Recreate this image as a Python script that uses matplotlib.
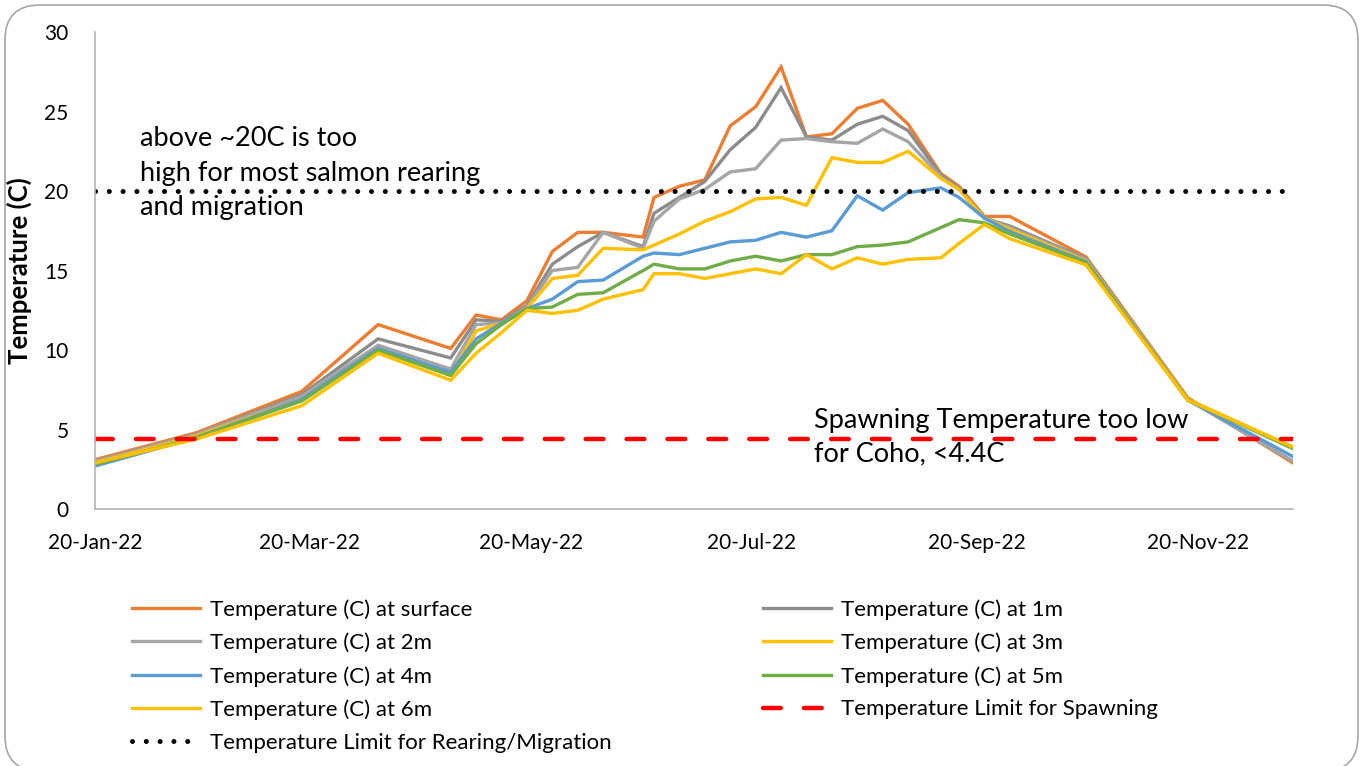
import matplotlib
matplotlib.use('Agg')
import matplotlib.pyplot as plt
import matplotlib.dates as mdates
from matplotlib.patches import FancyBboxPatch
import pandas as pd

plt.rcParams['font.family'] = ['Lato', 'DejaVu Sans']

# sample dates (2022)
dates = pd.to_datetime([
    '2022-01-20', '2022-02-17', '2022-03-18', '2022-04-08', '2022-04-28',
    '2022-05-05', '2022-05-12', '2022-05-19', '2022-05-26', '2022-06-02',
    '2022-06-09', '2022-06-20', '2022-06-23', '2022-06-30', '2022-07-07',
    '2022-07-14', '2022-07-21', '2022-07-28', '2022-08-04', '2022-08-11',
    '2022-08-18', '2022-08-25', '2022-09-01', '2022-09-10', '2022-09-15',
    '2022-09-22', '2022-09-29', '2022-10-20', '2022-11-17', '2022-12-16',
])

t_surface = [3.1, 4.8, 7.4, 11.6, 10.1, 12.2, 11.9, 13.1, 16.2, 17.4,
             17.4, 17.1, 19.6, 20.3, 20.7, 24.1, 25.3, 27.8, 23.4, 23.6,
             25.2, 25.7, 24.2, 21.1, 20.3, 18.4, 18.4, 15.85, 7.0, 2.9]
t_1m = [3.0, 4.7, 7.2, 10.7, 9.5, 11.9, 11.8, 12.8, 15.4, 16.5,
        17.4, 16.5, 18.6, 19.6, 20.6, 22.6, 24.0, 26.5, 23.4, 23.2,
        24.2, 24.7, 23.8, 21.0, 20.2, 18.3, 17.8, 15.75, 6.9, 3.0]
t_2m = [3.0, 4.7, 7.1, 10.3, 8.8, 11.6, 11.7, 12.7, 15.0, 15.2,
        17.4, 16.4, 18.1, 19.5, 20.1, 21.2, 21.4, 23.2, 23.3, 23.1,
        23.0, 23.9, 23.1, 20.9, 20.1, 18.3, 17.7, 15.7, 6.9, 3.0]
t_3m = [2.9, 4.6, 6.9, 10.0, 8.4, 11.2, 11.7, 12.6, 14.5, 14.7,
        16.4, 16.3, 16.6, 17.3, 18.1, 18.7, 19.5, 19.6, 19.1, 22.1,
        21.8, 21.8, 22.5, 20.8, 20.1, 18.3, 17.6, 15.6, 6.9, 3.9]
t_4m = [2.7, 4.5, 6.9, 10.1, 8.6, 10.7, 11.7, 12.6, 13.2, 14.3,
        14.4, 15.9, 16.1, 16.0, 16.4, 16.8, 16.9, 17.4, 17.1, 17.5,
        19.7, 18.8, 19.9, 20.2, 19.6, 18.3, 17.45, 15.55, 6.85, 3.3]
t_5m = [2.8, 4.5, 6.8, 10.0, 8.4, 10.4, 11.6, 12.6, 12.7, 13.5,
        13.6, 15.0, 15.4, 15.1, 15.1, 15.6, 15.9, 15.6, 16.0, 16.0,
        16.5, 16.6, 16.8, 17.7, 18.2, 18.0, 17.3, 15.5, 6.85, 3.8]
t_6m = [2.9, 4.4, 6.5, 9.8, 8.1, 9.8, 11.1, 12.5, 12.3, 12.5,
        13.2, 13.8, 14.8, 14.8, 14.5, 14.8, 15.1, 14.8, 16.0, 15.1,
        15.8, 15.4, 15.7, 15.8, 16.7, 17.9, 17.0, 15.35, 6.85, 3.9]

spawn_limit = 4.4
rear_limit = 20

series = [
    ('Temperature (C) at surface', t_surface, '#ED7D31'),
    ('Temperature (C) at 1m', t_1m, '#8C8C8C'),
    ('Temperature (C) at 2m', t_2m, '#A5A5A5'),
    ('Temperature (C) at 3m', t_3m, '#FFC000'),
    ('Temperature (C) at 4m', t_4m, '#5B9BD5'),
    ('Temperature (C) at 5m', t_5m, '#70AD47'),
    ('Temperature (C) at 6m', t_6m, '#FFC000'),
]

fig = plt.figure(figsize=(13.64, 7.66), dpi=100)
ax = fig.add_axes([0.0696, 0.3355, 0.8783, 0.6227])

handles = {}
for name, vals, col in series:
    h, = ax.plot(dates, vals, color=col, lw=2.4, solid_joinstyle='miter', label=name)
    handles[name] = h

h_spawn, = ax.plot(dates, [spawn_limit] * len(dates), color='#FF0000', lw=3.2,
                   ls=(0, (4, 5.2)), dash_capstyle='round',
                   label='Temperature Limit for Spawning')
h_rear, = ax.plot(dates, [rear_limit] * len(dates), color='black', lw=3.6,
                  ls=(0, (0.01, 2.75)), dash_capstyle='round',
                  label='Temperature Limit for Rearing/Migration')

ax.set_xlim(dates[0], dates[-1])
ax.set_ylim(0, 30)
ax.set_yticks(range(0, 31, 5))
ax.xaxis.set_major_locator(mdates.MonthLocator(bymonth=[1, 3, 5, 7, 9, 11], bymonthday=20))
ax.xaxis.set_major_formatter(mdates.DateFormatter('%d-%b-%y'))
ax.tick_params(length=0, labelsize=15)
ax.tick_params(axis='x', pad=17)
ax.tick_params(axis='y', pad=19)
for s in ['top', 'right']:
    ax.spines[s].set_visible(False)
for s in ['left', 'bottom']:
    ax.spines[s].set_color('#B4B4B4')
    ax.spines[s].set_linewidth(1.2)

ax.set_ylabel('Temperature (C)', fontsize=18.5, fontweight='bold', labelpad=9)

ax.text(0.038, 0.802, 'above ~20C is too\nhigh for most salmon rearing\nand migration',
        transform=ax.transAxes, fontsize=19.5, va='top', ha='left', linespacing=1.46)
ax.text(0.600, 0.212, 'Spawning Temperature too low\nfor Coho, <4.4C',
        transform=ax.transAxes, fontsize=19.5, va='top', ha='left', linespacing=1.44)

left_names = ['Temperature (C) at surface', 'Temperature (C) at 2m',
              'Temperature (C) at 4m', 'Temperature (C) at 6m']
right_names = ['Temperature (C) at 1m', 'Temperature (C) at 3m',
               'Temperature (C) at 5m']
leg_kw = dict(frameon=False, fontsize=16, handlelength=3.06, handletextpad=0.45,
              labelspacing=0.58, borderaxespad=0, borderpad=0)
leg1 = fig.legend([handles[n] for n in left_names] + [h_rear],
                  left_names + ['Temperature Limit for Rearing/Migration'],
                  loc='upper left', bbox_to_anchor=(132 / 1364, 1 - 599 / 766), **leg_kw)
leg2 = fig.legend([handles[n] for n in right_names] + [h_spawn],
                  right_names + ['Temperature Limit for Spawning'],
                  loc='upper left', bbox_to_anchor=(763 / 1364, 1 - 599 / 766), **leg_kw)

frame = FancyBboxPatch((0.05, -0.05), 13.53, 7.66, boxstyle='round,pad=0,rounding_size=0.35',
                       transform=fig.dpi_scale_trans, fill=False, edgecolor='#A6A6A6', lw=1.2)
fig.patches.append(frame)

fig.savefig('out.png', dpi=100, facecolor='white')
